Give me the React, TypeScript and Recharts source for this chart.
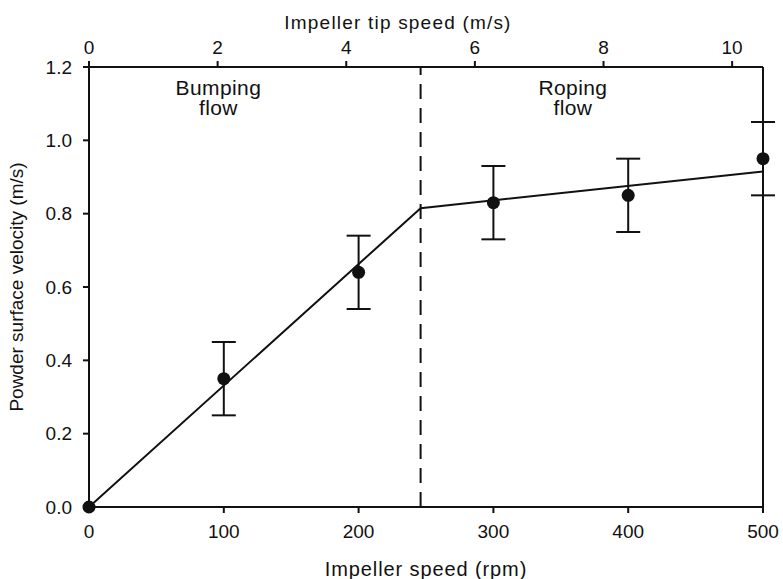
import React from "react";
import {
  ComposedChart,
  Line,
  Scatter,
  ErrorBar,
  XAxis,
  YAxis,
  ReferenceLine,
  ReferenceDot,
} from "recharts";

// measured points (rpm -> powder surface velocity, m/s)
const rpmPoints = [0, 100, 200, 300, 400, 500];
const velocity = [0, 0.35, 0.64, 0.83, 0.85, 0.95];
const velocityErr = [0, 0.1, 0.1, 0.1, 0.1, 0.1];

// fitted two-segment line
const fitRpm = [0, 246, 500];
const fitVelocity = [0, 0.815, 0.915];

// bumping / roping transition
const transitionRpm = 246;

const rpmTicks = [0, 100, 200, 300, 400, 500];
const tipTicks = [0, 2, 4, 6, 8, 10];
const velocityTicks = [0, 0.2, 0.4, 0.6, 0.8, 1.0, 1.2];
const tipMax = 10.48; // tip speed at 500 rpm

const FONT = "'Liberation Sans', Arial, sans-serif";
const INK = "#111";

const measured = rpmPoints.map((x, i) => ({ x, y: velocity[i], err: velocityErr[i] }));
// tip speed is proportional to rpm, so the fit line carries both
const fit = fitRpm.map((x, i) => ({ x, tip: (x / 500) * tipMax, y: fitVelocity[i] }));

const tickStyle = { fontFamily: FONT, fontSize: 19, fill: INK };

const Dot = (p: any) => <circle cx={p.cx} cy={p.cy} r={6.5} fill={INK} />;

const regionLabel = (first: string, second: string) => (p: any) => (
  <g>
    <text x={p.cx} y={p.cy + 28} textAnchor="middle" fontFamily={FONT} fontSize={21} letterSpacing={0.4} fill={INK}>
      {first}
    </text>
    <text x={p.cx} y={p.cy + 48} textAnchor="middle" fontFamily={FONT} fontSize={21} letterSpacing={0.4} fill={INK}>
      {second}
    </text>
  </g>
);

export default function App() {
  return (
    <div style={{ position: "absolute", left: 0, top: 0, background: "#fff" }}>
      <ComposedChart width={783} height={579} margin={{ top: 27, right: 0, bottom: 12, left: 0 }}>
        <XAxis
          xAxisId="rpm"
          dataKey="x"
          type="number"
          domain={[0, 500]}
          ticks={rpmTicks}
          height={60}
          tick={tickStyle}
          tickSize={6}
          tickMargin={12}
          stroke={INK}
          strokeWidth={2}
          label={{
            content: (props: any) => (
              <text
                x={props.viewBox.x + 337}
                y={props.viewBox.y + 69}
                textAnchor="middle"
                fontFamily={FONT}
                fontSize={20}
                letterSpacing={0.9}
                fill={INK}
              >
                Impeller speed (rpm)
              </text>
            ),
          }}
        />
        <XAxis
          xAxisId="tip"
          dataKey="tip"
          orientation="top"
          type="number"
          domain={[0, tipMax]}
          allowDataOverflow
          ticks={tipTicks}
          height={40}
          tick={tickStyle}
          tickSize={6}
          tickMargin={7}
          stroke={INK}
          strokeWidth={2}
          label={{
            content: (props: any) => (
              <text
                x={props.viewBox.x + 309}
                y={props.viewBox.y + 2}
                textAnchor="middle"
                fontFamily={FONT}
                fontSize={19}
                letterSpacing={1.2}
                fill={INK}
              >
                Impeller tip speed (m/s)
              </text>
            ),
          }}
        />
        <YAxis
          yAxisId="v"
          type="number"
          domain={[0, 1.2]}
          ticks={velocityTicks}
          tickFormatter={(v: number) => v.toFixed(1)}
          width={89}
          tick={tickStyle}
          tickSize={6}
          tickMargin={11}
          stroke={INK}
          strokeWidth={2}
          label={{
            content: () => {
              const cx = 16;
              const cy = 287;
              return (
                <text
                  x={cx}
                  y={cy}
                  transform={`rotate(-90 ${cx} ${cy})`}
                  textAnchor="middle"
                  dominantBaseline="central"
                  fontFamily={FONT}
                  fontSize={19}
                  fill={INK}
                >
                  Powder surface velocity (m/s)
                </text>
              );
            },
          }}
        />
        <YAxis
          yAxisId="right"
          orientation="right"
          type="number"
          domain={[0, 1.2]}
          width={20}
          tick={false}
          tickLine={false}
          stroke={INK}
          strokeWidth={2}
        />
        <ReferenceLine
          xAxisId="rpm"
          yAxisId="v"
          x={transitionRpm}
          stroke={INK}
          strokeWidth={2}
          strokeDasharray="15 9"
        />
        <ReferenceDot
          xAxisId="rpm"
          yAxisId="v"
          x={96}
          y={1.2}
          r={0}
          shape={regionLabel("Bumping", "flow")}
        />
        <ReferenceDot
          xAxisId="rpm"
          yAxisId="v"
          x={359}
          y={1.2}
          r={0}
          shape={regionLabel("Roping", "flow")}
        />
        <Line
          xAxisId="rpm"
          yAxisId="v"
          data={fit}
          dataKey="y"
          type="linear"
          stroke={INK}
          strokeWidth={2}
          dot={false}
          isAnimationActive={false}
        />
        {/* same fit on the tip-speed axis, invisible, so the top axis gets its ticks */}
        <Line
          xAxisId="tip"
          yAxisId="v"
          data={fit}
          dataKey="y"
          type="linear"
          stroke="none"
          dot={false}
          activeDot={false}
          isAnimationActive={false}
        />
        <Scatter
          xAxisId="rpm"
          yAxisId="v"
          data={measured}
          dataKey="y"
          shape={Dot}
          isAnimationActive={false}
        >
          <ErrorBar dataKey="err" direction="y" width={12} stroke={INK} strokeWidth={2} isAnimationActive={false} />
        </Scatter>
      </ComposedChart>
    </div>
  );
}
